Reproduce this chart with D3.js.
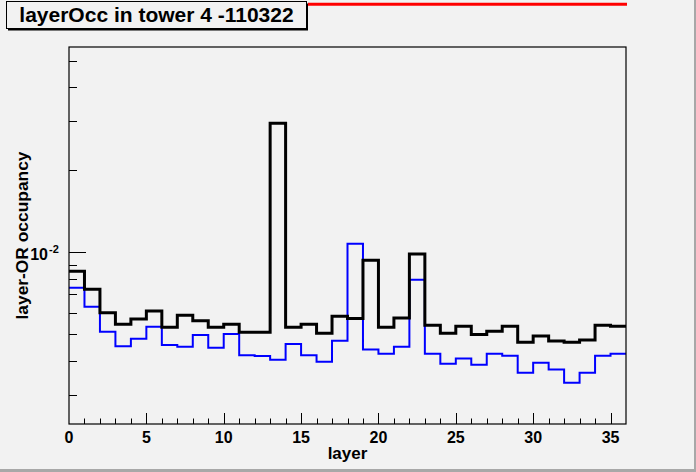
<!DOCTYPE html>
<html>
<head>
<meta charset="utf-8">
<script src="https://cdn.jsdelivr.net/npm/d3@7"></script>
<style>
  body { margin: 0; background: #f2f2f2; }
  svg text { font-family: 'Liberation Sans', Arial, Helvetica, sans-serif; font-weight: bold; fill: #000; }
</style>
</head>
<body>
<div id="chart"></div>
<script>
// layer-OR occupancy per layer, two histograms (black = all, blue = second set)
const layers = d3.range(36)
const blackOcc = [
  0.00850, 0.00731, 0.00600, 0.00544, 0.00569, 0.00609, 0.00531, 0.00587, 0.00561, 0.00531,
  0.00544, 0.00509, 0.00509, 0.02953, 0.00531, 0.00544, 0.00505, 0.00582, 0.00572, 0.00933,
  0.00531, 0.00574, 0.00983, 0.00540, 0.00505, 0.00535, 0.00500, 0.00513, 0.00535, 0.00468,
  0.00493, 0.00473, 0.00468, 0.00477, 0.00540, 0.00535
]
const blueOcc = [
  0.00741, 0.00631, 0.00511, 0.00453, 0.00482, 0.00533, 0.00457, 0.00451, 0.00497, 0.00447,
  0.00502, 0.00420, 0.00417, 0.00404, 0.00461, 0.00420, 0.00397, 0.00474, 0.01072, 0.00440,
  0.00425, 0.00451, 0.00792, 0.00425, 0.00391, 0.00408, 0.00387, 0.00425, 0.00418, 0.00362,
  0.00394, 0.00372, 0.00333, 0.00362, 0.00418, 0.00425
]
const xMajorTicks = [0, 5, 10, 15, 20, 25, 30, 35]
const xMinorTicks = d3.range(1, 36)
const yMinorTicks = [0.003, 0.004, 0.005, 0.006, 0.007, 0.008, 0.009, 0.02, 0.03, 0.04, 0.05]
const yMajorTicks = [0.01]
const yDomain = [0.002353, 0.0561]

const width = 696, height = 472
const margin = { top: 47, right: 70, bottom: 48, left: 69 }
const innerW = width - margin.left - margin.right
const innerH = height - margin.top - margin.bottom

const svg = d3.select('#chart').append('svg')
  .attr('width', width)
  .attr('height', height)

svg.append('rect')
  .attr('width', width).attr('height', height)
  .attr('fill', '#f2f2f2')

// canvas bevel (right and bottom)
svg.append('rect').attr('x', width - 2).attr('y', 0).attr('width', 2).attr('height', height).attr('fill', '#a8a8a8')
svg.append('rect').attr('x', 0).attr('y', height - 3).attr('width', width).attr('height', 3).attr('fill', '#a8a8a8')

const x = d3.scaleLinear().domain([0, 36]).range([0, innerW])
const y = d3.scaleLog().domain(yDomain).range([innerH, 0])

const g = svg.append('g')
  .attr('transform', `translate(${margin.left},${margin.top})`)

g.append('defs').append('clipPath').attr('id', 'plot-clip')
  .append('rect').attr('width', innerW).attr('height', innerH)

// histograms
const line = d3.line()
  .x(d => x(d[0]))
  .y(d => y(d[1]))
  .curve(d3.curveStepAfter)

function histPoints(vals) {
  const pts = layers.map(i => [i, vals[i]])
  pts.push([36, vals[vals.length - 1]])
  return pts
}

const plot = g.append('g').attr('clip-path', 'url(#plot-clip)')
plot.append('path')
  .attr('d', line(histPoints(blueOcc)))
  .attr('fill', 'none')
  .attr('stroke', '#0000ff')
  .attr('stroke-width', 2)
plot.append('path')
  .attr('d', line(histPoints(blackOcc)))
  .attr('fill', 'none')
  .attr('stroke', '#000')
  .attr('stroke-width', 3)

// frame
g.append('rect')
  .attr('width', innerW).attr('height', innerH)
  .attr('fill', 'none').attr('stroke', '#000').attr('stroke-width', 1.2)

// x ticks, pointing up into the frame
const xt = g.append('g').attr('stroke', '#000').attr('stroke-width', 1)
xt.selectAll('line.minor').data(xMinorTicks.filter(d => d % 5 !== 0)).join('line')
  .attr('class', 'minor')
  .attr('x1', d => Math.round(x(d)) + 0.5).attr('x2', d => Math.round(x(d)) + 0.5)
  .attr('y1', innerH).attr('y2', innerH - 5.5)
xt.selectAll('line.major').data(xMajorTicks.slice(1)).join('line')
  .attr('class', 'major')
  .attr('x1', d => Math.round(x(d)) + 0.5).attr('x2', d => Math.round(x(d)) + 0.5)
  .attr('y1', innerH).attr('y2', innerH - 11)

g.selectAll('text.xlab').data(xMajorTicks).join('text')
  .attr('class', 'xlab')
  .attr('x', d => x(d)).attr('y', innerH + 19)
  .attr('text-anchor', 'middle').attr('font-size', 16)
  .text(d3.format('d'))

// y ticks, pointing right into the frame
const yt = g.append('g').attr('stroke', '#000').attr('stroke-width', 1)
yt.selectAll('line.minor').data(yMinorTicks).join('line')
  .attr('class', 'minor')
  .attr('x1', 0).attr('x2', 8)
  .attr('y1', d => Math.round(y(d)) + 0.5).attr('y2', d => Math.round(y(d)) + 0.5)
yt.selectAll('line.major').data(yMajorTicks).join('line')
  .attr('class', 'major')
  .attr('x1', 0).attr('x2', 17)
  .attr('y1', d => Math.round(y(d)) + 0.5).attr('y2', d => Math.round(y(d)) + 0.5)

yMajorTicks.forEach(v => {
  g.append('text')
    .attr('x', -21).attr('y', y(v) + 8)
    .attr('text-anchor', 'end').attr('font-size', 16)
    .text('10')
  g.append('text')
    .attr('x', -20).attr('y', y(v) + 1)
    .attr('text-anchor', 'start').attr('font-size', 11)
    .text(String(Math.round(Math.log10(v))))
})

// axis titles
svg.append('text')
  .attr('x', margin.left + innerW / 2).attr('y', 459)
  .attr('text-anchor', 'middle').attr('font-size', 17)
  .text('layer')

svg.append('text')
  .attr('transform', `translate(28,${margin.top + innerH / 2}) rotate(-90)`)
  .attr('text-anchor', 'middle').attr('font-size', 16)
  .attr('textLength', 168).attr('lengthAdjust', 'spacingAndGlyphs')
  .text('layer-OR occupancy')

// red line at top right
svg.append('line')
  .attr('x1', 308).attr('x2', 627).attr('y1', 4.3).attr('y2', 4.3)
  .attr('stroke', '#ff0000').attr('stroke-width', 3)

// title box
svg.append('rect')
  .attr('x', 8).attr('y', 3.5).attr('width', 300).attr('height', 27)
  .attr('fill', '#000')
svg.append('rect')
  .attr('x', 6.5).attr('y', 1.5).attr('width', 300).attr('height', 27)
  .attr('fill', '#f2f2f2').attr('stroke', '#000').attr('stroke-width', 1)
svg.append('text')
  .attr('x', 156.5).attr('y', 22)
  .attr('text-anchor', 'middle').attr('font-size', 21)
  .text('layerOcc in tower 4 -110322')
</script>
</body>
</html>
